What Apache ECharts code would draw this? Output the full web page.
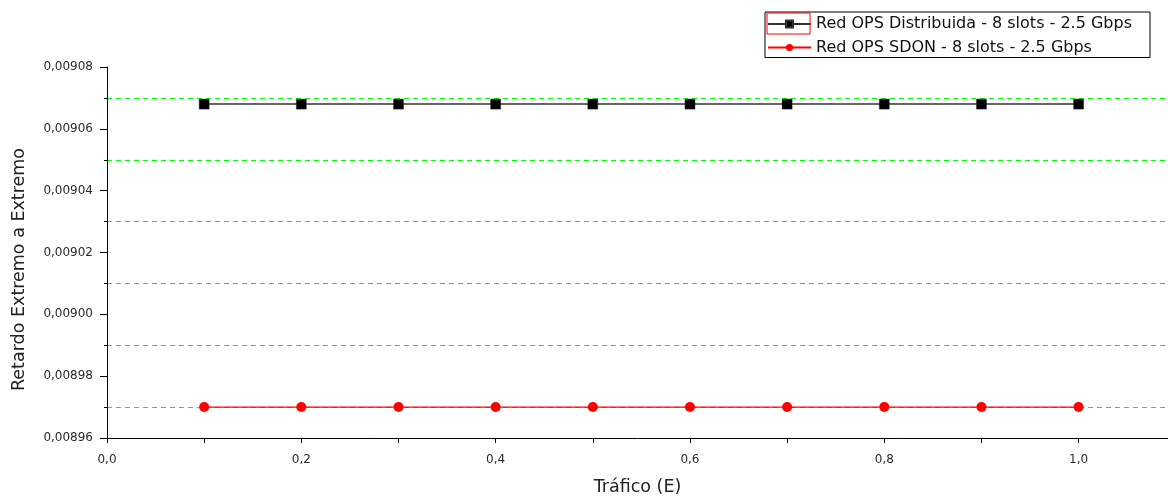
<!DOCTYPE html>
<html>
<head>
<meta charset="utf-8">
<script src="https://cdn.jsdelivr.net/npm/echarts@6/dist/echarts.min.js"></script>
<style>
html,body{margin:0;padding:0;background:#fff;}
#chart{width:1168px;height:501px;}
</style>
</head>
<body>
<div id="chart"></div>
<script>
// ---- data ----
const trafico = [0.1, 0.2, 0.3, 0.4, 0.5, 0.6, 0.7, 0.8, 0.9, 1.0];
const retardoDistribuida = [0.009068, 0.009068, 0.009068, 0.009068, 0.009068, 0.009068, 0.009068, 0.009068, 0.009068, 0.009068];
const retardoSDON = [0.00897, 0.00897, 0.00897, 0.00897, 0.00897, 0.00897, 0.00897, 0.00897, 0.00897, 0.00897];
const seriesNames = ['Red OPS Distribuida - 8 slots - 2.5 Gbps', 'Red OPS SDON - 8 slots - 2.5 Gbps'];
const xAxisTitle = 'Tráfico (E)';
const yAxisTitle = 'Retardo Extremo a Extremo';

const pairs = (xs, ys) => xs.map((x, i) => [x, ys[i]]);
const font = 'DejaVu Sans';
const yMin = 0.00896, yMax = 0.00908, yStep = 0.00002;

const chart = echarts.init(document.getElementById('chart'), null, {renderer: 'canvas'});
chart.setOption({
  backgroundColor: '#ffffff',
  animation: false,
  grid: {left: 107, right: 0, top: 67, bottom: 60, containLabel: false},
  legend: {
    orient: 'vertical',
    left: 765, top: 12,
    padding: [2, 3, 0, 2],
    itemGap: 3.5,
    itemWidth: 43, itemHeight: 9,
    borderColor: '#000', borderWidth: 1,
    backgroundColor: '#fff',
    textStyle: {fontFamily: font, fontSize: 16, color: '#111', lineHeight: 20, width: 331},
    data: seriesNames
  },
  xAxis: {
    type: 'value',
    min: 0, max: 1.092, interval: 0.1,
    name: xAxisTitle,
    nameLocation: 'middle',
    nameGap: 40,
    nameTextStyle: {fontFamily: font, fontSize: 17.5, color: '#222'},
    axisLine: {show: true, lineStyle: {color: '#000', width: 1}},
    axisTick: {show: true, length: 5, lineStyle: {color: '#000'}},
    axisLabel: {
      show: true, margin: 16, showMaxLabel: false,
      fontFamily: font, fontSize: 12, color: '#2a2a2a',
      formatter: v => (Math.round(v * 10) % 2 === 0 ? v.toFixed(1).replace('.', ',') : '')
    },
    splitLine: {show: false}
  },
  yAxis: {
    type: 'value',
    min: yMin, max: yMax, interval: yStep,
    name: yAxisTitle,
    nameLocation: 'middle',
    nameGap: 79,
    nameTextStyle: {fontFamily: font, fontSize: 17.5, color: '#222', padding: [0, 34, 0, 0]},
    axisLine: {show: true, lineStyle: {color: '#000', width: 1}},
    axisTick: {show: true, length: 7, lineStyle: {color: '#000'}},
    minorTick: {show: true, splitNumber: 2, length: 3, lineStyle: {color: '#000'}},
    axisLabel: {
      margin: 14, fontFamily: font, fontSize: 12, color: '#2a2a2a',
      formatter: v => v.toFixed(5).replace('.', ',')
    },
    splitLine: {show: false},
    minorSplitLine: {show: true, lineStyle: {color: '#00ff00', type: [5, 4], width: 1}}
  },
  series: [
    {
      name: seriesNames[0], type: 'line',
      data: pairs(trafico, retardoDistribuida),
      symbol: 'rect', symbolSize: 10,
      lineStyle: {color: '#333', width: 1.5},
      itemStyle: {color: '#000', borderColor: '#333', borderWidth: 0.5}
    },
    {
      name: seriesNames[1], type: 'line',
      data: pairs(trafico, retardoSDON),
      symbol: 'circle', symbolSize: 10,
      lineStyle: {color: '#ff0000', width: 1.2},
      itemStyle: {color: '#ff0000'}
    }
  ],
  graphic: [{
    type: 'rect', z: 100, silent: true,
    shape: {x: 767, y: 13, width: 43, height: 21},
    style: {fill: 'none', stroke: '#ff0000', lineWidth: 1}
  }]
});
</script>
</body>
</html>
